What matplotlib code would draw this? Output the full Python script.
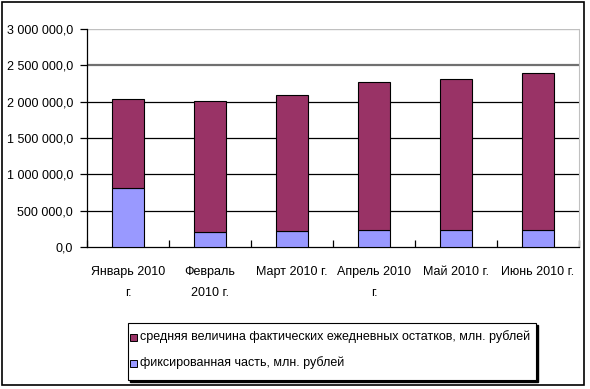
import matplotlib
matplotlib.use("Agg")
import matplotlib.pyplot as plt
from matplotlib.patches import Rectangle
from matplotlib.ticker import FixedLocator, FuncFormatter

plt.rcParams['font.family'] = ['Liberation Sans Narrow', 'Liberation Sans', 'DejaVu Sans']

months = ["Январь 2010\nг.", "Февраль\n2010 г.", "Март 2010 г.",
          "Апрель 2010\nг.", "Май 2010 г.", "Июнь 2010 г."]
# fixed part (bottom) and average actual daily balance (stacked on top)
fixed_part = [810000, 200000, 220000, 230000, 230000, 230000]
avg_balance = [1230000, 1805000, 1876000, 2036000, 2086000, 2169000]
y_ticks = [0, 500000, 1000000, 1500000, 2000000, 2500000, 3000000]

c_avg = "#993366"
c_fix = "#9999FF"

fig = plt.figure(figsize=(5.9, 3.89), dpi=100)
ax = fig.add_axes([87 / 590, 1 - 247 / 389, 492 / 590, 218 / 389])

x = list(range(len(months)))
ax.bar(x, fixed_part, width=0.4, color=c_fix, edgecolor="black", linewidth=0.8, zorder=3)
ax.bar(x, avg_balance, width=0.4, bottom=fixed_part, color=c_avg,
       edgecolor="black", linewidth=0.8, zorder=3)

ax.set_xlim(-0.5, len(months) - 0.5)
ax.set_ylim(0, 3000000)

# gridlines in the style of the original
for v in y_ticks[1:]:
    if v == 2500000:
        ax.axhline(v, color="#707070", linewidth=1.6, zorder=1)
    elif v == 3000000:
        ax.axhline(v, color="#c0c0c0", linewidth=1.0, zorder=1)
    else:
        ax.axhline(v, color="black", linewidth=0.9, zorder=1)

ax.yaxis.set_major_locator(FixedLocator(y_ticks))
ax.yaxis.set_major_formatter(FuncFormatter(
    lambda v, p: "{:,.1f}".format(v).replace(",", " ").replace(".", ",")))
ax.set_xticks(x)
ax.set_xticklabels(months, fontsize=9, linespacing=2.0)
ax.xaxis.set_minor_locator(FixedLocator([i - 0.5 for i in range(len(months) + 1)]))
ax.tick_params(axis="x", which="major", length=0, pad=14)
ax.tick_params(axis="x", which="minor", length=5, direction="in", width=0.9)
ax.tick_params(axis="y", length=5, width=0.9, labelsize=9, pad=5)

ax.spines["top"].set_visible(False)
ax.spines["right"].set_color("#c0c0c0")
ax.spines["left"].set_linewidth(0.9)
ax.spines["bottom"].set_linewidth(0.9)

# outer frame
fig.patches.append(Rectangle((2 / 590, 4 / 389), 582 / 590, 383 / 389,
                             transform=fig.transFigure, fill=False,
                             edgecolor="black", linewidth=1.2))

# legend with shadow
lx0, ly0, lw, lh = 128 / 590, 1 - 380 / 389, 408 / 590, 57 / 389
fig.patches.append(Rectangle((lx0 + 2 / 590, ly0 - 2 / 389), lw, lh,
                             transform=fig.transFigure, facecolor="black",
                             edgecolor="black", zorder=1))
fig.patches.append(Rectangle((lx0, ly0), lw, lh, transform=fig.transFigure,
                             facecolor="white", edgecolor="black",
                             linewidth=0.8, zorder=2))
labels = ["средняя величина фактических ежедневных остатков, млн. рублей",
          "фиксированная часть, млн. рублей"]
colors = [c_avg, c_fix]
for i, (lab, col) in enumerate(zip(labels, colors)):
    yy = 1 - (337 + i * 26) / 389
    fig.patches.append(Rectangle((130 / 590, yy - 3.5 / 389), 7 / 590, 7 / 389,
                                 transform=fig.transFigure, facecolor=col,
                                 edgecolor="black", linewidth=0.7, zorder=3))
    fig.text(140 / 590, yy, lab, fontsize=9, va="center", ha="left", zorder=4)

fig.savefig("out.png", dpi=100)
